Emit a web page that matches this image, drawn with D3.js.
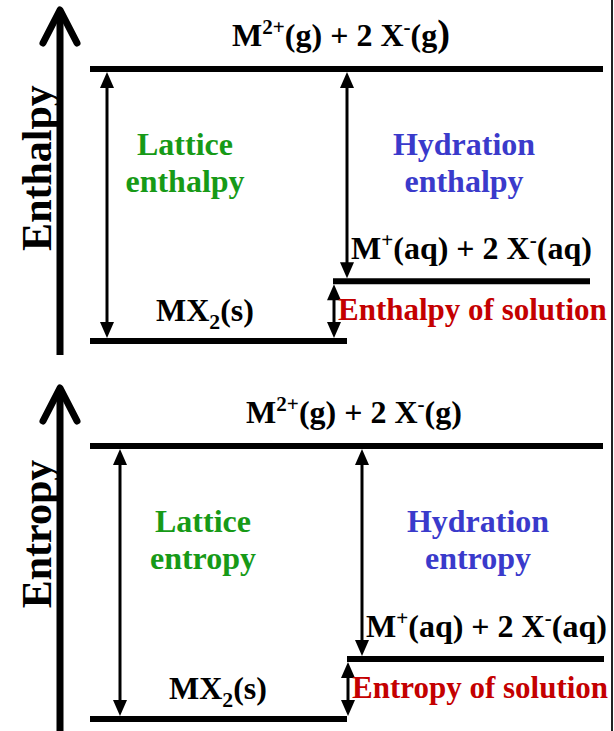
<!DOCTYPE html>
<html><head><meta charset="utf-8">
<script src="https://cdn.jsdelivr.net/npm/d3@7"></script>
<style>html,body{margin:0;padding:0;background:#fff;overflow:hidden}svg{display:block}</style>
</head><body>
<script>
// ---------- data ----------
const panels = ["Enthalpy", "Entropy"];
const quantityWords = ["enthalpy", "entropy"];
const levelKeys = ["solid", "aqueous", "gas"];
const levelValues = [0, 22, 100];            // relative level heights
const processNames = ["Lattice", "Hydration"];
const solutionLabels = ["Enthalpy of solution", "Entropy of solution"];
const gasLabel = [["M", ""], ["2+", "sup"], ["(g) + 2 X", ""], ["-", "sup"], ["(g", ""], [")", ""]];
const aqLabel = [["M", ""], ["+", "sup"], ["(aq) + 2 X", ""], ["-", "sup"], ["(aq)", ""]];
const solidLabel = [["MX", ""], ["2", "sub"], ["(s)", ""]];

// ---------- layout ----------
const W = 614, H = 731;
const layout = [
  {yTop: 69, yBot: 341, axisTop: 10, axisBot: 355, axisLabelY: 168,
   latX: 107, hydX: 347, solX: 334, aqX0: 333, aqX1: 590,
   gasX: 341, aqTextX: 351, solTextX: 338, solidX: 205, latTextX: 185, hydTextX: 464, bigParen: true},
  {yTop: 446, yBot: 719, axisTop: 388, axisBot: 731, axisLabelY: 534,
   latX: 120, hydX: 362, solX: 348, aqX0: 347, aqX1: 604,
   gasX: 354, aqTextX: 366, solTextX: 352, solidX: 218, latTextX: 203, hydTextX: 478, bigParen: false}
];
const levelX0 = 90, gasX1 = 603, solidX1 = 347;
const FS = 32, AXFS = 42, SOLFS = 31;
const font = "'Liberation Serif','Times New Roman',serif";
const colors = {lattice: "#179a17", hydration: "#3a3acb", solution: "#c40000", ink: "#000"};

const svg = d3.select("body").append("svg").attr("width", W).attr("height", H);

function richText(g, parts, x, y, anchor, color, bigParen) {
  const t = g.append("text").attr("x", x).attr("y", y)
    .attr("text-anchor", anchor).attr("font-family", font).attr("font-weight", "bold")
    .attr("font-size", FS).attr("fill", color);
  let shift = 0;
  parts.forEach(([s, kind], i) => {
    let target = 0, size = FS;
    if (kind === "sup") { target = -0.38 * FS; size = 0.66 * FS; }
    if (kind === "sub") { target = 0.26 * FS; size = 0.68 * FS; }
    if (bigParen && i === parts.length - 1) size = FS * 1.2;
    t.append("tspan").attr("dy", target - shift).attr("font-size", size).text(s);
    shift = target;
  });
  return t;
}

function arrowHead(g, x, yTip, dir) { // dir=+1 points down, -1 points up
  const hw = 7, hl = 16;
  g.append("path")
    .attr("d", `M${x},${yTip}L${x - hw},${yTip - dir * hl}L${x + hw},${yTip - dir * hl}Z`)
    .attr("fill", colors.ink);
}

function doubleArrow(g, x, y1, y2) { // y1 top, y2 bottom (tips)
  g.append("line").attr("x1", x).attr("x2", x).attr("y1", y1 + 12).attr("y2", y2 - 12)
    .attr("stroke", colors.ink).attr("stroke-width", 3);
  arrowHead(g, x, y1, -1);
  arrowHead(g, x, y2, 1);
}

panels.forEach((name, p) => {
  const L = layout[p];
  const g = svg.append("g");
  const y = d3.scaleLinear().domain([d3.min(levelValues), d3.max(levelValues)]).range([L.yBot, L.yTop]);
  const lv = {};
  levelKeys.forEach((k, i) => lv[k] = y(levelValues[i]));
  const half = 3;

  // axis arrow
  g.append("line").attr("x1", 60).attr("x2", 60).attr("y1", L.axisBot).attr("y2", L.axisTop + 3)
    .attr("stroke", colors.ink).attr("stroke-width", 7);
  g.append("path").attr("d", `M43,${L.axisTop + 33}L60,${L.axisTop}L77,${L.axisTop + 33}`)
    .attr("fill", "none").attr("stroke", colors.ink).attr("stroke-width", 7)
    .attr("stroke-linecap", "round").attr("stroke-linejoin", "round");
  g.append("text").attr("transform", `translate(51,${L.axisLabelY}) rotate(-90)`)
    .attr("text-anchor", "middle").attr("font-family", font).attr("font-weight", "bold")
    .attr("font-size", AXFS).attr("fill", colors.ink).text(name);

  // levels
  const levels = [
    {x0: levelX0, x1: gasX1, yv: lv.gas},
    {x0: levelX0, x1: solidX1, yv: lv.solid},
    {x0: L.aqX0, x1: L.aqX1, yv: lv.aqueous}
  ];
  g.selectAll(null).data(levels).join("line")
    .attr("x1", d => d.x0).attr("x2", d => d.x1).attr("y1", d => d.yv).attr("y2", d => d.yv)
    .attr("stroke", colors.ink).attr("stroke-width", 6);

  // arrows
  doubleArrow(g, L.latX, lv.gas + half, lv.solid - half);
  doubleArrow(g, L.hydX, lv.gas + half, lv.aqueous - half);
  doubleArrow(g, L.solX, lv.aqueous + half, lv.solid - half);

  // level labels
  richText(g, gasLabel, L.gasX, lv.gas - 23, "middle", colors.ink, L.bigParen);
  richText(g, aqLabel, L.aqTextX, lv.aqueous - 22, "start", colors.ink, false);
  richText(g, solidLabel, L.solidX, lv.solid - 20, "middle", colors.ink, false);

  // process labels
  const procColors = [colors.lattice, colors.hydration];
  const procX = [L.latTextX, L.hydTextX];
  processNames.forEach((pn, i) => {
    [pn, quantityWords[p]].forEach((line, j) => {
      g.append("text").attr("x", procX[i]).attr("y", lv.gas + 86 + j * 37)
        .attr("text-anchor", "middle").attr("font-family", font).attr("font-weight", "bold")
        .attr("font-size", FS).attr("fill", procColors[i]).text(line);
    });
  });
  g.append("text").attr("x", L.solTextX).attr("y", lv.solid - 21)
    .attr("font-family", font).attr("font-weight", "bold")
    .attr("font-size", SOLFS).attr("fill", colors.solution).text(solutionLabels[p]);
});

// right border line
svg.append("line").attr("x1", 612).attr("x2", 612).attr("y1", 0).attr("y2", H)
  .attr("stroke", "#222").attr("stroke-width", 2);
</script>
</body></html>
